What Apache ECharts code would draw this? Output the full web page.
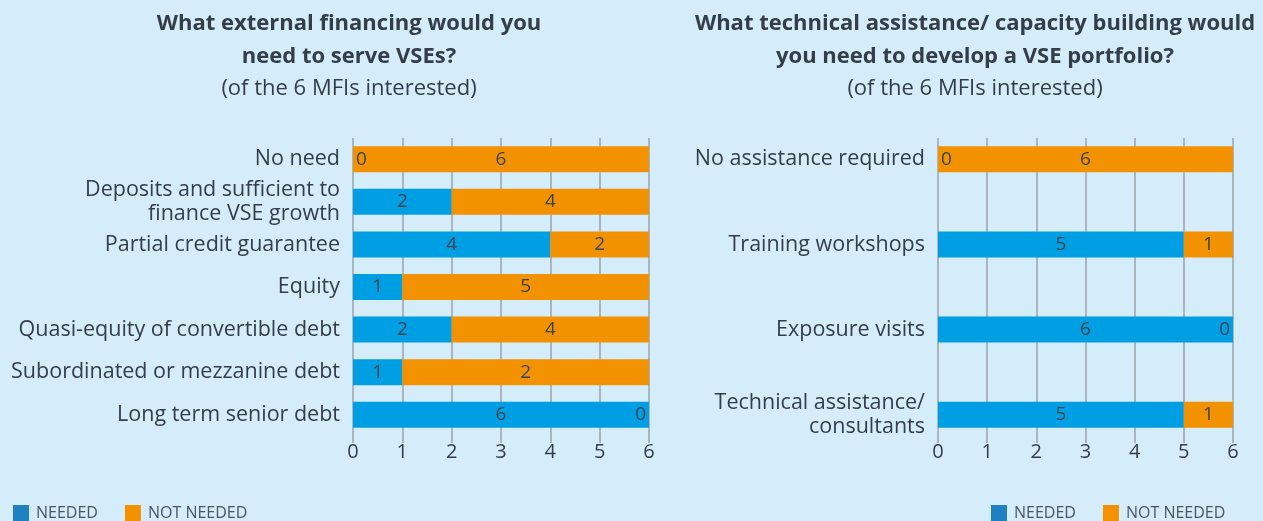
<!DOCTYPE html>
<html>
<head>
<meta charset="utf-8">
<script src="https://cdn.jsdelivr.net/npm/echarts@6/dist/echarts.min.js"></script>
<style>
  html, body { margin: 0; padding: 0; background: #d5ecfa; }
  #chart { width: 1263px; height: 521px; }
</style>
</head>
<body>
<div id="chart"></div>
<script>
// left chart: external financing
var financeCategories = [
  'No need',
  'Deposits and sufficient to\nfinance VSE growth',
  'Partial credit guarantee',
  'Equity',
  'Quasi-equity of convertible debt',
  'Subordinated or mezzanine debt',
  'Long term senior debt'
]
var financeNeeded = [0, 2, 4, 1, 2, 1, 6]
var financeNotNeeded = [6, 4, 2, 5, 4, 5, 0]
// printed labels (the original prints "2" on the subordinated bar that reaches 6)
var financeNeededLabels = ['0', '2', '4', '1', '2', '1', '6']
var financeNotNeededLabels = ['6', '4', '2', '5', '4', '2', '0']

// right chart: technical assistance (empty rows keep the spacing)
var assistCategories = [
  'No assistance required', '',
  'Training workshops', '',
  'Exposure visits', '',
  'Technical assistance/\nconsultants'
]
var assistNeeded = [0, null, 5, null, 6, null, 5]
var assistNotNeeded = [6, null, 1, null, 0, null, 1]

var xTicks = ['0', '1', '2', '3', '4', '5', '6']

var FONT = 'Open Sans'
var TEXT = '#333e49'
var BLUE = '#009fe3'
var ORANGE = '#f39200'

function barData(values, labels, zeroPos) {
  return values.map(function(v, i) {
    if (v === null) return null
    var item = { value: v, label: { formatter: labels ? labels[i] : String(v) } }
    if (v === 0) item.label.position = zeroPos
    return item
  })
}

function xAxis(idx) {
  return {
    type: 'value',
    gridIndex: idx,
    min: 0,
    max: 6,
    interval: 1,
    axisLine: { show: false },
    axisTick: { show: true, length: 7, lineStyle: { color: '#9aa3ab', width: 1.5 } },
    splitLine: { show: true, lineStyle: { color: '#9aa3ab', width: 1.5 } },
    axisLabel: {
      fontFamily: FONT, fontSize: 20, color: TEXT, margin: 6,
      formatter: function(v) { return xTicks[v] }
    }
  }
}

function yAxis(idx, cats) {
  return {
    type: 'category',
    gridIndex: idx,
    inverse: true,
    data: cats,
    axisLine: { show: false },
    axisTick: { show: false },
    axisLabel: {
      fontFamily: FONT, fontSize: 21.5, color: TEXT, margin: 13, lineHeight: 24, align: 'right'
    }
  }
}

var barLabel = {
  show: true,
  position: 'inside',
  fontFamily: FONT,
  fontSize: 19,
  color: '#3a4550',
  distance: 3
}

function series(name, xi, values, labels, color, zeroPos) {
  return {
    name: name,
    type: 'bar',
    stack: 'total' + xi,
    xAxisIndex: xi,
    yAxisIndex: xi,
    barCategoryGap: '39%',
    itemStyle: { color: color },
    label: barLabel,
    data: barData(values, labels, zeroPos)
  }
}

function legend(left) {
  return {
    left: left,
    top: 505,
    padding: 0,
    icon: 'rect',
    itemWidth: 16,
    itemHeight: 16,
    itemGap: 27,
    selectedMode: false,
    textStyle: { fontFamily: FONT, fontSize: 16, color: '#4a5561', padding: [0, 0, 0, 2] },
    data: [
      { name: 'NEEDED', itemStyle: { color: '#1f80c2' } },
      { name: 'NOT NEEDED', itemStyle: { color: ORANGE } }
    ]
  }
}

function title(center, text) {
  return {
    text: text,
    subtext: '(of the 6 MFIs interested)',
    left: center,
    top: 2,
    textAlign: 'center',
    itemGap: 2,
    textStyle: { fontFamily: FONT, fontSize: 22, fontWeight: 'bold', color: TEXT, lineHeight: 33 },
    subtextStyle: { fontFamily: FONT, fontSize: 22, color: TEXT, lineHeight: 28 }
  }
}

var chart = echarts.init(document.getElementById('chart'))
chart.setOption({
  backgroundColor: '#d5ecfa',
  animation: false,
  title: [
    title(344, 'What external financing would you\nneed to serve VSEs?'),
    title(970, 'What technical assistance/ capacity building would\nyou need to develop a VSE portfolio?')
  ],
  legend: [legend(13), legend(991)],
  grid: [
    { left: 353, width: 296, top: 138, height: 298 },
    { left: 938, width: 295, top: 138, height: 298 }
  ],
  xAxis: [xAxis(0), xAxis(1)],
  yAxis: [yAxis(0, financeCategories), yAxis(1, assistCategories)],
  series: [
    series('NEEDED', 0, financeNeeded, financeNeededLabels, BLUE, 'right'),
    series('NOT NEEDED', 0, financeNotNeeded, financeNotNeededLabels, ORANGE, 'left'),
    series('NEEDED', 1, assistNeeded, null, BLUE, 'right'),
    series('NOT NEEDED', 1, assistNotNeeded, null, ORANGE, 'left')
  ]
})
</script>
</body>
</html>
